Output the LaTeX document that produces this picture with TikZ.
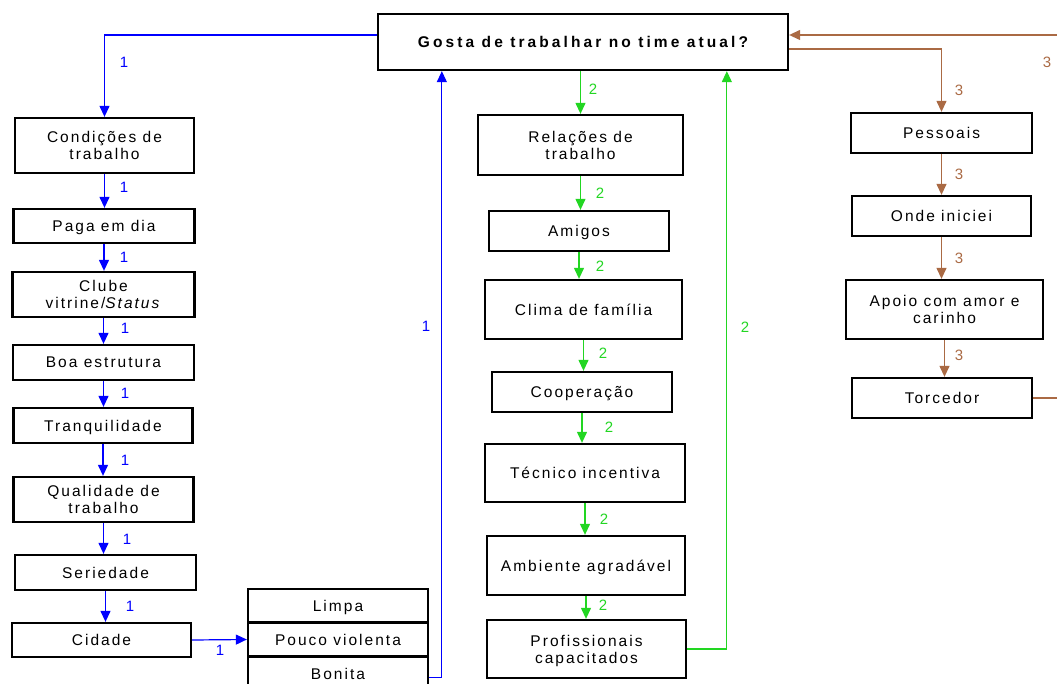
\documentclass[tikz,border=0pt]{standalone}
\usepackage{fontspec}
\setmainfont{Liberation Sans}[LetterSpace=13]
\usetikzlibrary{arrows.meta}
\definecolor{cblue}{RGB}{0,0,255}
\definecolor{cgreen}{RGB}{34,214,34}
\definecolor{cbrown}{RGB}{170,106,68}
\tikzset{
  box/.style={draw=black, line width=2.3pt, fill=white, inner sep=0pt, align=center,
    text depth=0pt, font=\fontsize{15.5}{17}\selectfont},
  title/.style={box, font=\fontsize{15.5}{17}\selectfont\bfseries\addfontfeature{LetterSpace=20}},
  conn/.style={line width=1.2pt, -{Triangle[length=11pt,width=10pt]}},
  num/.style={font=\fontsize{15}{17}\selectfont, inner sep=0pt},
}
\begin{document}
\begin{tikzpicture}[x=1pt,y=-1pt]
\useasboundingbox (0,0) rectangle (1057,684);
\clip (0,0) rectangle (1057,684);

% central question
\node[title, minimum width=410pt, minimum height=56pt] (main) at (583,42) {Gosta de trabalhar no time atual?};

% branch 1: working conditions
\node[box, minimum width=179pt, minimum height=55pt] (c1) at (104.5,145.5) {Condições de\\trabalho};
\node[box, minimum width=181pt, minimum height=34pt] (c2) at (104,226) {Paga em dia};
\node[box, minimum width=182pt, minimum height=45pt] (c3) at (103.5,294.5) {Clube\\vitrine/\textit{Status}};
\node[box, minimum width=181pt, minimum height=35pt] (c4) at (103.5,362.5) {Boa estrutura};
\node[box, minimum width=179pt, minimum height=35pt] (c5) at (103,425.5) {Tranquilidade};
\node[box, minimum width=180pt, minimum height=45pt] (c6) at (103.5,499.5) {Qualidade de\\trabalho};
\node[box, minimum width=181pt, minimum height=35pt] (c7) at (105.5,572.5) {Seriedade};
\node[box, minimum width=179pt, minimum height=34pt] (c8) at (101.5,640) {Cidade};
\node[box, minimum width=180pt, minimum height=33pt] (s1) at (338,605.5) {Limpa};
\node[box, minimum width=180pt, minimum height=34pt] (s2) at (338,639.5) {Pouco violenta};
\node[box, minimum width=180pt, minimum height=34pt] (s3) at (338,673.5) {Bonita};

% branch 2: working relations
\node[box, minimum width=205pt, minimum height=60pt] (m1) at (580.5,145) {Relações de\\trabalho};
\node[box, minimum width=180pt, minimum height=40pt] (m2) at (579,231) {Amigos};
\node[box, minimum width=197pt, minimum height=59pt] (m3) at (583.5,309.5) {Clima de família};
\node[box, minimum width=180pt, minimum height=40pt] (m4) at (582,392) {Cooperação};
\node[box, minimum width=200pt, minimum height=58pt] (m5) at (585,473) {Técnico incentiva};
\node[box, minimum width=198pt, minimum height=59pt] (m6) at (586,565.5) {Ambiente agradável};
\node[box, minimum width=199pt, minimum height=58pt] (m7) at (586.5,649) {Profissionais\\capacitados};

% branch 3: personal reasons
\node[box, minimum width=181pt, minimum height=40pt] (r1) at (941.5,133) {Pessoais};
\node[box, minimum width=179pt, minimum height=40pt] (r2) at (941.5,216) {Onde iniciei};
\node[box, minimum width=197pt, minimum height=59pt] (r3) at (944.5,309.5) {Apoio com amor e\\carinho};
\node[box, minimum width=180pt, minimum height=40pt] (r4) at (942,398) {Torcedor};

% blue connectors
\begin{scope}[cblue]
\draw[conn] ([yshift=7pt]main.west) -| (c1.north);
\draw[conn] (c1.south) -- (c1.south |- c2.north);
\draw[conn] (c2.south) -- (c2.south |- c3.north);
\draw[conn] (c3.south) -- (c3.south |- c4.north);
\draw[conn] (c4.south) -- (c4.south |- c5.north);
\draw[conn] (c5.south) -- (c5.south |- c6.north);
\draw[conn] (c6.south) -- (c6.south |- c7.north);
\draw[conn] (c7.south) -- (c7.south |- c8.north);
\draw[conn] (c8.east) -- (s2.west);
\draw[conn] ([yshift=-4pt]s3.east) -| ([xshift=65pt]main.south west);
\node[num] (b1) at (124,62) {1};
\node[num] (b2) at (124,187) {1};
\node[num] (b3) at (124,257) {1};
\node[num] (b4) at (125,328) {1};
\node[num] (b5) at (125,393) {1};
\node[num] (b6) at (125,460) {1};
\node[num] (b7) at (127,539) {1};
\node[num] (b8) at (130,606) {1};
\node[num] (b9) at (220,650) {1};
\node[num] (b10) at (426,326) {1};
\end{scope}

% green connectors
\begin{scope}[cgreen]
\draw[conn] (m1.north |- main.south) -- (m1.north);
\draw[conn] (m1.south) -- (m1.south |- m2.north);
\draw[conn] (m2.south) -- (m2.south |- m3.north);
\draw[conn] (m3.south) -- (m3.south |- m4.north);
\draw[conn] (m4.south) -- (m4.south |- m5.north);
\draw[conn] (m5.south) -- (m5.south |- m6.north);
\draw[conn] (m6.south) -- (m6.south |- m7.north);
\draw[conn] (m7.east) -| ([xshift=350pt]main.south west);
\node[num] (g1) at (593,89) {2};
\node[num] (g2) at (600,193) {2};
\node[num] (g3) at (600,266) {2};
\node[num] (g4) at (603,353) {2};
\node[num] (g5) at (609,427) {2};
\node[num] (g6) at (604,519) {2};
\node[num] (g7) at (603,605) {2};
\node[num] (g8) at (745,327) {2};
\end{scope}

% brown connectors
\begin{scope}[cbrown]
\coordinate (rtop) at (1064,35);
\draw[conn] ([yshift=-7pt]main.east) -| (r1.north);
\draw[conn] (r1.south) -- (r1.south |- r2.north);
\draw[conn] (r2.south) -- (r2.south |- r3.north);
\draw[conn] (r3.south) -- (r3.south |- r4.north);
\draw[conn] (r4.east) -| (rtop) -- ([yshift=7pt]main.east);
\node[num] (o1) at (959,90) {3};
\node[num] (o2) at (959,174) {3};
\node[num] (o3) at (959,258) {3};
\node[num] (o4) at (959,355) {3};
\node[num] (o5) at (1047,62) {3};
\end{scope}
\end{tikzpicture}
\end{document}
